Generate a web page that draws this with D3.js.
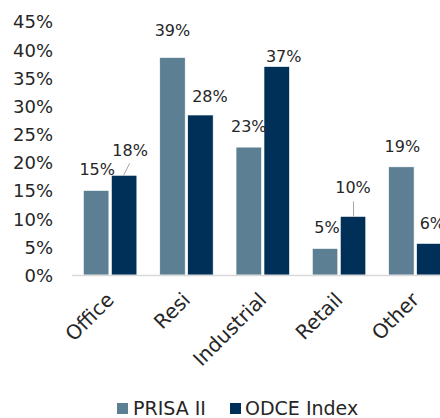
<!DOCTYPE html>
<html>
<head>
<meta charset="utf-8">
<script src="https://cdn.jsdelivr.net/npm/d3@7"></script>
<style>
  html, body { margin: 0; padding: 0; background: #fff; }
  svg { display: block; }
  text { font-family: "DejaVu Sans", sans-serif; fill: #262626; }
</style>
</head>
<body>
<svg id="chart" width="440" height="418"></svg>
<script>
// ---- data ----
const categories = ["Office", "Resi", "Industrial", "Retail", "Other"];
const seriesNames = ["PRISA II", "ODCE Index"];
const prisaValues = [15.0, 38.6, 22.7, 4.7, 19.2];
const odceValues = [17.7, 28.4, 37.0, 10.4, 5.6];
const prisaLabels = ["15%", "39%", "23%", "5%", "19%"];
const odceLabels = ["18%", "28%", "37%", "10%", "6%"];
const yTicks = [0, 5, 10, 15, 20, 25, 30, 35, 40, 45];

// ---- layout ----
const colors = ["#5d7f93", "#003057"];
const prisaOffsets = [[1, -21], [0, -27], [0, -21], [2, -21], [1, -20.7]];
const odceOffsets = [[6, -25], [9.5, -18.6], [7, -10.7], [0, -29.6], [3, -20.7]];

const svg = d3.select("#chart");
const y = d3.scaleLinear().domain([0, 45]).range([275, 21.5]);
const x = d3.scaleBand().domain(categories).range([72, 453.5])
  .paddingInner(0.3).paddingOuter(0.15);
const xs = d3.scaleBand().domain(seriesNames).range([0, x.bandwidth()])
  .paddingInner(0.09);

// y axis labels
const yAxis = d3.axisLeft(y).tickValues(yTicks).tickFormat(d => d + "%").tickSize(0).tickPadding(0);
const ga = svg.append("g").attr("transform", "translate(53,0)").call(yAxis);
ga.select(".domain").remove();
ga.selectAll("text").attr("font-size", 18).style("font-family", '"DejaVu Sans", sans-serif')
  .attr("fill", "#262626").attr("dy", "0.36em");

const seriesData = [prisaValues, odceValues];
const seriesLabels = [prisaLabels, odceLabels];
const seriesOffsets = [prisaOffsets, odceOffsets];

seriesNames.forEach((s, si) => {
  const g = svg.append("g");
  g.selectAll("rect").data(categories).join("rect")
    .attr("x", c => x(c) + xs(s))
    .attr("width", xs.bandwidth())
    .attr("y", (c, i) => y(seriesData[si][i]))
    .attr("height", (c, i) => y(0) - y(seriesData[si][i]))
    .attr("fill", colors[si])
    .attr("stroke", "#ffffff").attr("stroke-width", 0.6);
});

// baseline axis
svg.append("line").attr("x1", 72).attr("x2", 440).attr("y1", y(0) + 0.5).attr("y2", y(0) + 0.5)
  .attr("stroke", "#d9d9d9").attr("stroke-width", 1.5);

// data labels
seriesNames.forEach((s, si) => {
  categories.forEach((c, i) => {
    const cx = x(c) + xs(s) + xs.bandwidth() / 2;
    const top = y(seriesData[si][i]);
    const off = seriesOffsets[si][i];
    svg.append("text")
      .attr("x", cx + off[0]).attr("y", top + off[1])
      .attr("dy", "0.36em")
      .attr("text-anchor", "middle")
      .attr("font-size", 16)
      .text(seriesLabels[si][i]);
  });
});

// leader lines for ODCE Office & Retail
{
  const c0 = x("Office") + xs("ODCE Index") + xs.bandwidth() / 2;
  const t0 = y(odceValues[0]);
  svg.append("line").attr("x1", c0 - 0.5).attr("y1", t0).attr("x2", c0 + 5.5).attr("y2", t0 - 12)
    .attr("stroke", "#a6a6a6").attr("stroke-width", 1);
  const c3 = x("Retail") + xs("ODCE Index") + xs.bandwidth() / 2;
  const t3 = y(odceValues[3]);
  svg.append("line").attr("x1", c3 + 0.5).attr("y1", t3).attr("x2", c3 + 0.5).attr("y2", t3 - 15)
    .attr("stroke", "#a6a6a6").attr("stroke-width", 1);
}

// category labels rotated
categories.forEach(c => {
  const cx = x(c) + x.bandwidth() / 2;
  svg.append("text")
    .attr("transform", `translate(${cx + 5},${301}) rotate(-45)`)
    .attr("text-anchor", "end")
    .attr("font-size", 20)
    .text(c);
});

// legend
const legend = [[117, 133], [230, 245]];
seriesNames.forEach((s, si) => {
  svg.append("rect").attr("x", legend[si][0]).attr("y", 403).attr("width", 11).attr("height", 11)
    .attr("fill", colors[si]);
  svg.append("text").attr("x", legend[si][1]).attr("y", 415).attr("font-size", 19).text(s);
});
</script>
</body>
</html>
